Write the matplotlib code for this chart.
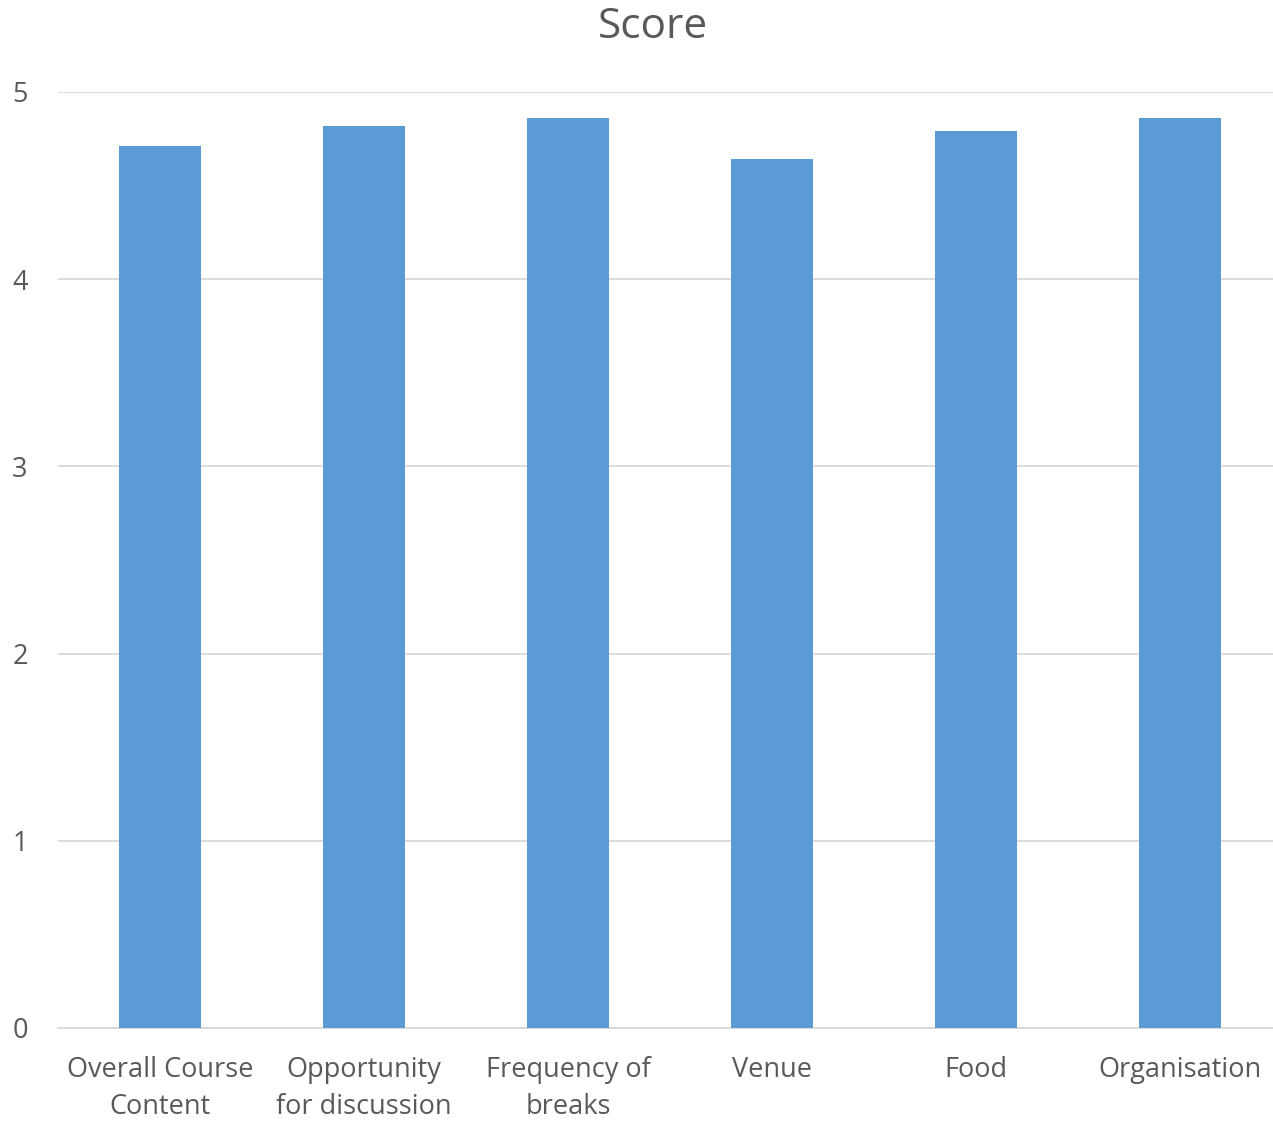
import matplotlib
matplotlib.use("Agg")
import matplotlib.pyplot as plt

categories = ["Overall Course\nContent", "Opportunity\nfor discussion", "Frequency of\nbreaks",
              "Venue", "Food", "Organisation"]
scores = [4.71, 4.82, 4.86, 4.64, 4.79, 4.86]
y_ticks = [0, 1, 2, 3, 4, 5]

plt.rcParams['font.family'] = ['Open Sans', 'DejaVu Sans']
text_col = '#595959'
grid_col = '#d9d9d9'

fig = plt.figure(figsize=(12.73, 11.24), dpi=100)
ax = fig.add_axes([58 / 1273, 1 - 1028 / 1124, (1273 - 58) / 1273, (1028 - 92) / 1124])

x = list(range(len(categories)))
ax.bar(x, scores, width=0.4, color='#5b9bd5', zorder=3)

# one category is 204 px wide, first centre at 160 px
ax.set_xlim(-0.5, (1273 - 160) / 204)
ax.set_ylim(0, 5)
ax.set_yticks(y_ticks)
ax.set_xticks(x)
ax.set_xticklabels(categories, fontsize=19.5, color=text_col, linespacing=1.45)
ax.tick_params(axis='y', labelsize=19.5, labelcolor=text_col, length=0, pad=33)
ax.tick_params(axis='x', length=0, pad=20)
ax.grid(axis='y', color=grid_col, linewidth=1.3, zorder=0)
for side in ['top', 'right', 'left']:
    ax.spines[side].set_visible(False)
ax.spines['bottom'].set_color(grid_col)
ax.spines['bottom'].set_linewidth(1.3)
for lab in ax.get_yticklabels():
    lab.set_horizontalalignment('left')

fig.text(653 / 1273, 1 - 27 / 1124, "Score", ha='center', va='center', fontsize=30.5, color=text_col)

fig.savefig("out.png", dpi=100)
